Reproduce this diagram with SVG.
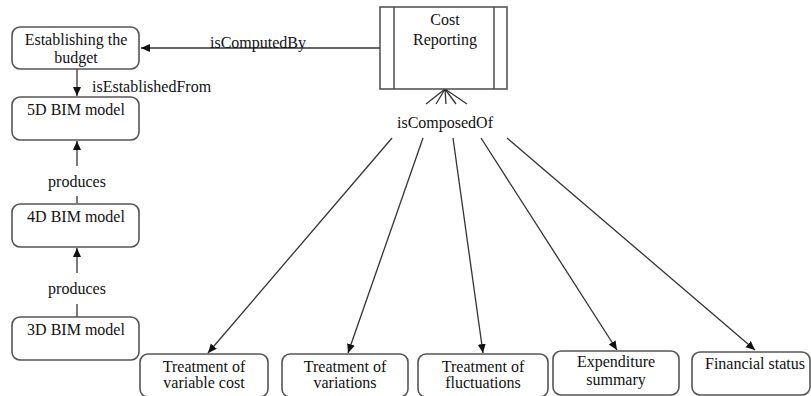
<svg xmlns="http://www.w3.org/2000/svg" width="811" height="396" viewBox="0 0 811 396">
  <style>
    .box { fill: #ffffff; stroke: #555555; stroke-width: 1.6; }
    .txt { font-size: 16px; fill: #111111; }
    .mid { text-anchor: middle; }
    .edge { fill: none; stroke: #333333; stroke-width: 1.3; }
  </style>
  <defs>
    <marker id="arrow" markerWidth="10" markerHeight="10" refX="9" refY="5" orient="auto" markerUnits="userSpaceOnUse">
      <path d="M0,1 L9,5 L0,9 Z" fill="#111111"/>
    </marker>
  </defs>
  <rect width="811" height="396" fill="#ffffff"/>

  <g font-family="'Liberation Serif', 'DejaVu Serif', serif">
  <!-- connectors -->
  <g id="connectors">
    <!-- Cost Reporting to Establishing the budget -->
    <line class="edge" x1="380" y1="48" x2="141" y2="48" marker-end="url(#arrow)"/>
    <text class="txt" x="210" y="48">isComputedBy</text>
    <!-- budget to 5D -->
    <line class="edge" x1="77" y1="69" x2="77" y2="96" marker-end="url(#arrow)"/>
    <text class="txt" x="92" y="92">isEstablishedFrom</text>
    <!-- 4D produces 5D -->
    <line class="edge" x1="77" y1="203" x2="77" y2="196"/>
    <line class="edge" x1="77" y1="166" x2="77" y2="141" marker-end="url(#arrow)"/>
    <text class="txt mid" x="77" y="187">produces</text>
    <!-- 3D produces 4D -->
    <line class="edge" x1="77" y1="317" x2="77" y2="304"/>
    <line class="edge" x1="77" y1="273" x2="77" y2="248" marker-end="url(#arrow)"/>
    <text class="txt mid" x="77" y="294">produces</text>
    <!-- composition fan -->
    <g class="edge">
      <line x1="445" y1="89" x2="426" y2="104"/>
      <line x1="445" y1="89" x2="436" y2="104"/>
      <line x1="445" y1="89" x2="446" y2="104"/>
      <line x1="445" y1="89" x2="456" y2="104"/>
      <line x1="445" y1="89" x2="467" y2="104"/>
    </g>
    <circle cx="445" cy="89" r="1.8" fill="#111111"/>
    <text class="txt mid" x="445" y="128">isComposedOf</text>
    <line class="edge" x1="392" y1="138" x2="208" y2="353" marker-end="url(#arrow)"/>
    <line class="edge" x1="423" y1="138" x2="348" y2="353" marker-end="url(#arrow)"/>
    <line class="edge" x1="453" y1="138" x2="483" y2="353" marker-end="url(#arrow)"/>
    <line class="edge" x1="481" y1="138" x2="617" y2="350" marker-end="url(#arrow)"/>
    <line class="edge" x1="507" y1="138" x2="755" y2="350" marker-end="url(#arrow)"/>
  </g>

  <!-- nodes -->
  <g id="cost-reporting">
    <rect class="box" x="380" y="7" width="127" height="82"/>
    <line class="box" x1="394" y1="7" x2="394" y2="89"/>
    <line class="box" x1="494" y1="7" x2="494" y2="89"/>
    <text class="txt mid" x="445" y="25">Cost</text>
    <text class="txt mid" x="445" y="45">Reporting</text>
  </g>
  <g id="establishing-budget">
    <rect class="box" x="12" y="27" width="127" height="42" rx="8"/>
    <text class="txt mid" x="76" y="45">Establishing the</text>
    <text class="txt mid" x="76" y="63">budget</text>
  </g>
  <g id="bim-5d">
    <rect class="box" x="12" y="97" width="127" height="43" rx="8"/>
    <text class="txt mid" x="76" y="115">5D BIM model</text>
  </g>
  <g id="bim-4d">
    <rect class="box" x="12" y="204" width="127" height="43" rx="8"/>
    <text class="txt mid" x="76" y="222">4D BIM model</text>
  </g>
  <g id="bim-3d">
    <rect class="box" x="12" y="317" width="127" height="43" rx="8"/>
    <text class="txt mid" x="76" y="335">3D BIM model</text>
  </g>
  <g id="variable-cost">
    <rect class="box" x="140" y="354" width="128" height="43" rx="8"/>
    <text class="txt mid" x="204" y="372">Treatment of</text>
    <text class="txt mid" x="204" y="388">variable cost</text>
  </g>
  <g id="variations">
    <rect class="box" x="282" y="354" width="126" height="43" rx="8"/>
    <text class="txt mid" x="345" y="372">Treatment of</text>
    <text class="txt mid" x="345" y="388">variations</text>
  </g>
  <g id="fluctuations">
    <rect class="box" x="418" y="354" width="130" height="43" rx="8"/>
    <text class="txt mid" x="483" y="372">Treatment of</text>
    <text class="txt mid" x="483" y="388">fluctuations</text>
  </g>
  <g id="expenditure">
    <rect class="box" x="553" y="351" width="126" height="44" rx="8"/>
    <text class="txt mid" x="616" y="367">Expenditure</text>
    <text class="txt mid" x="616" y="385">summary</text>
  </g>
  <g id="financial-status">
    <rect class="box" x="692" y="352" width="118" height="43" rx="8"/>
    <text class="txt mid" x="755" y="369">Financial status</text>
  </g>
  </g>
</svg>
